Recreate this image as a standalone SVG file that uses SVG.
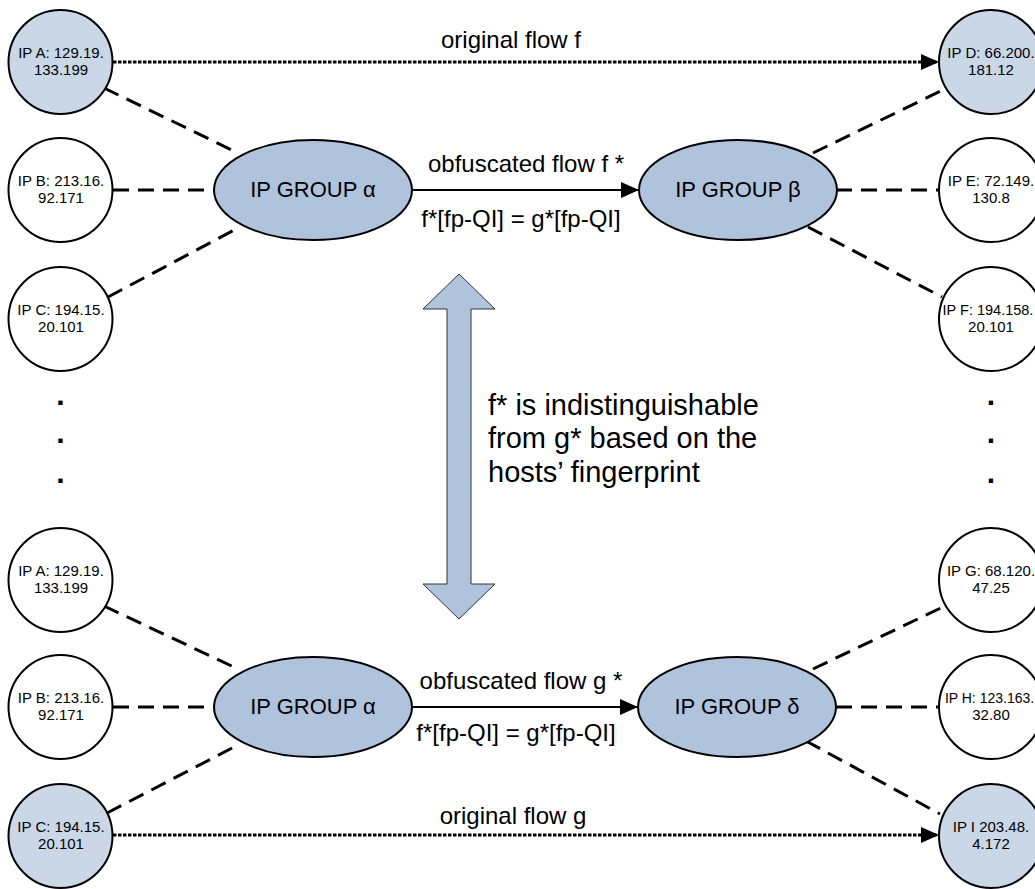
<svg xmlns="http://www.w3.org/2000/svg" width="1035" height="889" viewBox="0 0 1035 889">
<style>
  text { font-family: "Liberation Sans", Arial, sans-serif; fill: #000; }
  .ip { fill: #fff; stroke: #000; stroke-width: 2; }
  .ipb { fill: #c9d7e7; stroke: #000; stroke-width: 2; }
  .grp { fill: #b0c3dc; stroke: #000; stroke-width: 2; }
  .ipt { font-size: 15px; text-anchor: middle; }
  .gt { font-size: 22px; text-anchor: middle; }
  .lbl { font-size: 24px; text-anchor: middle; }
  .mid { font-size: 29px; }
  .dots { font-size: 30px; font-weight: bold; text-anchor: middle; }
  .dash { fill: none; stroke: #000; stroke-width: 3; stroke-dasharray: 16 9; }
  .dot { fill: none; stroke: #000; stroke-width: 3; stroke-dasharray: 3.5 1.5; }
  .solid { fill: none; stroke: #000; stroke-width: 2; }
</style>
<defs>
  <marker id="ah" markerUnits="userSpaceOnUse" markerWidth="18" markerHeight="16" refX="18" refY="8" orient="auto">
    <path d="M0,0 L18,8 L0,16 Z" fill="#000"/>
  </marker>
</defs>

<g id="connectors">
  <line class="dot" x1="113" y1="62" x2="939" y2="62" marker-end="url(#ah)"/>
  <line class="dash" x1="104" y1="88" x2="238" y2="153"/>
  <line class="dash" x1="113" y1="190" x2="214" y2="190"/>
  <line class="dash" x1="108" y1="297" x2="238" y2="228"/>
  <line class="dash" x1="813" y1="153" x2="947" y2="88"/>
  <line class="dash" x1="836" y1="190" x2="939" y2="190"/>
  <line class="dash" x1="808" y1="227" x2="942" y2="297"/>
  <line class="solid" x1="412" y1="190" x2="639" y2="190" marker-end="url(#ah)"/>

  <line class="dash" x1="104" y1="606" x2="238" y2="669"/>
  <line class="dash" x1="113" y1="707" x2="214" y2="707"/>
  <line class="dash" x1="107" y1="813" x2="238" y2="745"/>
  <line class="dash" x1="813" y1="669" x2="947" y2="605"/>
  <line class="dash" x1="836" y1="707" x2="939" y2="707"/>
  <line class="dash" x1="806" y1="741" x2="940" y2="814"/>
  <line class="solid" x1="412" y1="707" x2="638" y2="707" marker-end="url(#ah)"/>
  <line class="dot" x1="113" y1="835" x2="939" y2="835" marker-end="url(#ah)"/>
</g>

<g id="labels">
  <text class="lbl" x="511" y="48">original flow f</text>
  <text class="lbl" x="526" y="172">obfuscated flow f *</text>
  <text class="lbl" x="521" y="227">f*[fp-QI] = g*[fp-QI]</text>
  <text class="lbl" x="521" y="689">obfuscated flow g *</text>
  <text class="lbl" x="516" y="741">f*[fp-QI] = g*[fp-QI]</text>
  <text class="lbl" x="513" y="824">original flow g</text>
</g>

<g id="double-arrow">
  <polygon points="459,274 495,309 471,309 471,584 495,584 459,619 423,584 447,584 447,309 423,309" fill="#b0c3dc" stroke="#333" stroke-width="1"/>
</g>

<g id="note">
  <text class="mid" x="488" y="415">f* is indistinguishable</text>
  <text class="mid" x="488" y="448">from g* based on the</text>
  <text class="mid" x="488" y="482">hosts’ fingerprint</text>
</g>

<g id="dots-left">
  <text class="dots" x="60.5" y="405">.</text>
  <text class="dots" x="60.5" y="443">.</text>
  <text class="dots" x="60.5" y="483">.</text>
</g>
<g id="dots-right">
  <text class="dots" x="991" y="405">.</text>
  <text class="dots" x="991" y="443">.</text>
  <text class="dots" x="991" y="483">.</text>
</g>

<g id="ipA-top"><circle class="ipb" cx="60.5" cy="62" r="52"/><text class="ipt" x="61" y="58">IP A: 129.19.</text><text class="ipt" x="61" y="75">133.199</text></g>
<g id="ipB-top"><circle class="ip" cx="60.5" cy="190" r="52"/><text class="ipt" x="61" y="186">IP B: 213.16.</text><text class="ipt" x="61" y="203">92.171</text></g>
<g id="ipC-top"><circle class="ip" cx="60.5" cy="319" r="52"/><text class="ipt" x="61" y="315">IP C: 194.15.</text><text class="ipt" x="61" y="332">20.101</text></g>

<g id="ipD"><circle class="ipb" cx="991" cy="62" r="52"/><text class="ipt" x="991" y="58">IP D: 66.200.</text><text class="ipt" x="991" y="75">181.12</text></g>
<g id="ipE"><circle class="ip" cx="991" cy="190" r="52"/><text class="ipt" x="991" y="186">IP E: 72.149.</text><text class="ipt" x="991" y="203">130.8</text></g>
<g id="ipF"><circle class="ip" cx="991" cy="319" r="52"/><text class="ipt" x="988" y="315" style="font-size:14.5px">IP F: 194.158.</text><text class="ipt" x="991" y="332">20.101</text></g>

<g id="group-alpha-top"><ellipse class="grp" cx="313" cy="190" rx="99" ry="50"/><text class="gt" x="313" y="197">IP GROUP α</text></g>
<g id="group-beta"><ellipse class="grp" cx="738" cy="190" rx="99" ry="50"/><text class="gt" x="738" y="197">IP GROUP β</text></g>

<g id="ipA-bottom"><circle class="ip" cx="60.5" cy="580" r="52"/><text class="ipt" x="61" y="576">IP A: 129.19.</text><text class="ipt" x="61" y="593">133.199</text></g>
<g id="ipB-bottom"><circle class="ip" cx="60.5" cy="707" r="52"/><text class="ipt" x="61" y="703">IP B: 213.16.</text><text class="ipt" x="61" y="720">92.171</text></g>
<g id="ipC-bottom"><circle class="ipb" cx="60.5" cy="836" r="52"/><text class="ipt" x="61" y="832">IP C: 194.15.</text><text class="ipt" x="61" y="849">20.101</text></g>

<g id="ipG"><circle class="ip" cx="991" cy="580" r="52"/><text class="ipt" x="991" y="576">IP G: 68.120.</text><text class="ipt" x="991" y="593">47.25</text></g>
<g id="ipH"><circle class="ip" cx="991" cy="707" r="52"/><text class="ipt" x="989.5" y="703" style="font-size:14px">IP H: 123.163.</text><text class="ipt" x="991" y="720">32.80</text></g>
<g id="ipI"><circle class="ipb" cx="991" cy="836" r="52"/><text class="ipt" x="991" y="832">IP I 203.48.</text><text class="ipt" x="991" y="849">4.172</text></g>

<g id="group-alpha-bottom"><ellipse class="grp" cx="313" cy="707" rx="99" ry="50"/><text class="gt" x="313" y="714">IP GROUP α</text></g>
<g id="group-delta"><ellipse class="grp" cx="737" cy="707" rx="99" ry="50"/><text class="gt" x="737" y="714">IP GROUP δ</text></g>
</svg>
